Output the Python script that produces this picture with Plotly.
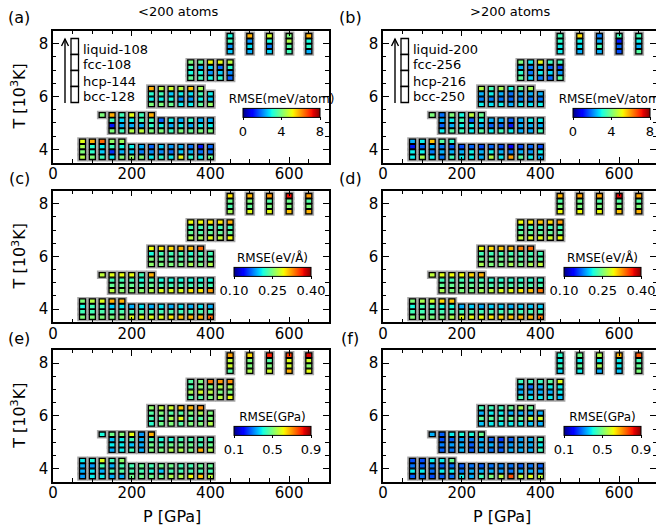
import numpy as np
import plotly.graph_objects as go

W, H = 656, 529
FONT = 'DejaVu Sans'

# ---------------- state points (P in GPa, T in 10^3 K) ----------------
T_ROWS = [4, 5, 6, 7, 8]
P_LIQ = [
    [75, 100, 125, 150, 175],
    [125, 150, 175, 200, 225, 250],
    [250, 275, 300, 325, 350, 375],
    [350, 375, 400, 425, 450],
    [450, 500, 550, 600, 650],
]
P_SOL = [
    [75, 100, 125, 150, 175, 200, 225, 250, 275, 300, 325, 350, 375, 400],
    [150, 175, 200, 225, 250, 275, 300, 325, 350, 375, 400],
    [250, 275, 300, 325, 350, 375, 400],
    [350, 375, 400, 425, 450],
    [450, 500, 550, 600, 650],
]

# ---------------- (a) energy RMSE, <200 atoms (meV/atom) ----------------
A_LIQ = [[5.0, 5.8, 6.4, 4.2, 4.3], [4.0, 5.8, 3.4, 5.0, 3.4, 5.8], [5.8, 4.6, 4.8, 4.6, 5.6, 4.4],
         [4.0, 3.8, 5.1, 5.0, 4.6], [3.0, 5.8, 4.8, 4.0, 5.8]]
A_FCC = [[4.4, 3.2, 2.9, 3.4, 3.0, 2.9, 2.4, 1.8, 2.6, 2.2, 2.4, 1.9, 1.2, 1.8],
         [3.4, 2.7, 2.9, 3.4, 3.4, 1.8, 2.9, 2.4, 3.2, 2.4, 2.4], [3.2, 3.4, 2.6, 2.9, 2.8, 3.4, 2.9],
         [3.4, 2.4, 2.7, 1.9, 3.2], [3.4, 2.2, 3.0, 4.5, 3.0]]
A_HCP = [[4.0, 3.2, 2.6, 1.4, 2.4, 2.6, 2.0, 2.1, 2.1, 1.9, 2.6, 2.4, 1.9, 1.9],
         [1.2, 2.4, 2.4, 2.4, 3.2, 2.9, 2.4, 2.9, 2.4, 2.9, 2.9], [2.9, 2.9, 3.0, 2.1, 2.2, 2.9, 2.6],
         [3.0, 3.0, 2.2, 2.6, 2.1], [2.2, 2.8, 2.0, 3.6, 3.2]]
A_BCC = [[4.5, 4.0, 3.4, 2.9, 4.0, 4.2, 4.0, 2.9, 3.2, 2.9, 5.0, 3.2, 2.9, 3.8],
         [4.0, 3.4, 4.5, 4.6, 4.0, 4.0, 3.4, 4.0, 3.8, 4.0, 4.0], [4.0, 4.0, 3.8, 2.9, 2.9, 3.7, 4.2],
         [3.7, 3.4, 3.0, 3.2, 1.8], [2.6, 2.4, 2.7, 3.4, 2.4]]

# ---------------- (b) energy RMSE, >200 atoms (meV/atom) ----------------
B_LIQ = [[2.4, 2.9, 5.6, 3.6, 3.2], [4.0, 1.9, 4.0, 3.0, 4.6, 3.8], [4.5, 3.4, 4.4, 3.0, 3.8, 4.4],
         [4.0, 2.9, 5.0, 3.4, 3.4], [3.4, 5.4, 2.0, 3.4, 3.4]]
B_FCC = [[1.2, 1.8, 2.4, 2.0, 1.8, 1.6, 1.8, 1.6, 1.8, 1.6, 1.0, 1.6, 1.8, 1.6],
         [2.4, 2.9, 3.4, 1.8, 2.9, 2.4, 2.4, 1.8, 2.4, 2.9, 2.9], [2.4, 2.9, 2.4, 1.9, 2.4, 2.4, 2.4],
         [2.4, 2.0, 2.4, 1.8, 1.6], [3.2, 2.9, 2.4, 1.2, 2.9]]
B_HCP = [[2.9, 2.9, 2.0, 2.4, 2.4, 2.4, 2.9, 2.4, 2.9, 2.4, 2.0, 2.4, 2.2, 2.9],
         [1.8, 2.4, 2.9, 2.9, 2.4, 1.8, 1.8, 1.2, 2.4, 2.4, 2.4], [2.0, 2.0, 1.9, 1.8, 2.0, 1.9, 1.9],
         [3.2, 2.0, 2.9, 2.7, 2.2], [2.9, 2.8, 3.4, 1.8, 2.4]]
B_BCC = [[2.9, 4.4, 2.9, 2.0, 3.4, 2.9, 2.9, 2.4, 4.5, 2.9, 5.9, 3.6, 2.9, 2.4],
         [2.9, 3.6, 3.4, 2.9, 3.6, 2.9, 3.4, 2.9, 2.4, 2.4, 3.4], [2.9, 2.8, 2.9, 2.4, 2.9, 2.8, 2.9],
         [3.7, 2.7, 2.0, 1.8, 3.6], [2.9, 2.4, 2.4, 1.6, 3.6]]

# ---------------- (c) force RMSE, <200 atoms (eV/Å) ----------------
C_LIQ = [[0.250, 0.271, 0.286, 0.316, 0.316], [0.274, 0.286, 0.289, 0.289, 0.229, 0.316],
         [0.292, 0.298, 0.304, 0.316, 0.316, 0.340], [0.292, 0.292, 0.298, 0.298, 0.316],
         [0.301, 0.316, 0.325, 0.370, 0.325]]
C_FCC = [[0.214, 0.229, 0.229, 0.199, 0.208, 0.190, 0.205, 0.190, 0.205, 0.190, 0.205, 0.190, 0.205, 0.190],
         [0.229, 0.229, 0.229, 0.214, 0.229, 0.214, 0.214, 0.214, 0.214, 0.214, 0.214],
         [0.214, 0.229, 0.229, 0.229, 0.220, 0.229, 0.229], [0.229, 0.229, 0.229, 0.229, 0.229],
         [0.244, 0.250, 0.235, 0.244, 0.235]]
C_HCP = [[0.229, 0.229, 0.232, 0.229, 0.232, 0.229, 0.232, 0.229, 0.229, 0.232, 0.229, 0.229, 0.232, 0.229],
         [0.241, 0.241, 0.241, 0.229, 0.241, 0.229, 0.229, 0.229, 0.229, 0.229, 0.229],
         [0.250, 0.244, 0.235, 0.235, 0.235, 0.235, 0.235], [0.241, 0.235, 0.241, 0.241, 0.241],
         [0.232, 0.241, 0.250, 0.250, 0.250]]
C_BCC = [[0.250, 0.250, 0.250, 0.250, 0.256, 0.286, 0.286, 0.286, 0.286, 0.298, 0.310, 0.316, 0.316, 0.340],
         [0.271, 0.256, 0.256, 0.256, 0.271, 0.286, 0.286, 0.286, 0.298, 0.298, 0.322],
         [0.256, 0.250, 0.250, 0.250, 0.265, 0.250, 0.268], [0.271, 0.265, 0.286, 0.274, 0.292],
         [0.265, 0.286, 0.289, 0.310, 0.316]]

# ---------------- (d) force RMSE, >200 atoms (eV/Å) ----------------
D_LIQ = [[0.250, 0.265, 0.280, 0.304, 0.310], [0.274, 0.286, 0.292, 0.292, 0.304, 0.316],
         [0.292, 0.304, 0.310, 0.316, 0.334, 0.340], [0.292, 0.298, 0.310, 0.304, 0.322],
         [0.316, 0.322, 0.322, 0.376, 0.322]]
D_FCC = [[0.214, 0.229, 0.229, 0.214, 0.214, 0.190, 0.199, 0.190, 0.199, 0.199, 0.190, 0.199, 0.196, 0.199],
         [0.229, 0.229, 0.229, 0.226, 0.229, 0.220, 0.220, 0.220, 0.220, 0.220, 0.220],
         [0.229, 0.229, 0.229, 0.229, 0.229, 0.229, 0.229], [0.229, 0.229, 0.229, 0.229, 0.229],
         [0.235, 0.244, 0.235, 0.235, 0.235]]
D_HCP = [[0.229, 0.229, 0.229, 0.229, 0.229, 0.229, 0.232, 0.229, 0.229, 0.229, 0.232, 0.229, 0.229, 0.229],
         [0.241, 0.241, 0.241, 0.241, 0.241, 0.232, 0.232, 0.232, 0.232, 0.232, 0.232],
         [0.244, 0.244, 0.244, 0.244, 0.235, 0.235, 0.235], [0.241, 0.241, 0.241, 0.241, 0.241],
         [0.250, 0.250, 0.250, 0.250, 0.250]]
D_BCC = [[0.250, 0.250, 0.250, 0.250, 0.268, 0.286, 0.289, 0.292, 0.298, 0.304, 0.310, 0.316, 0.316, 0.334],
         [0.265, 0.250, 0.250, 0.250, 0.265, 0.274, 0.286, 0.289, 0.298, 0.310, 0.334],
         [0.265, 0.250, 0.250, 0.265, 0.250, 0.265, 0.274], [0.274, 0.286, 0.286, 0.280, 0.292],
         [0.292, 0.292, 0.292, 0.310, 0.316]]

# ---------------- (e) stress RMSE, <200 atoms (GPa) ----------------
E_LIQ = [[0.388, 0.404, 0.596, 0.436, 0.516], [0.404, 0.484, 0.500, 0.604, 0.324, 0.676],
         [0.516, 0.564, 0.580, 0.660, 0.676, 0.708], [0.460, 0.500, 0.724, 0.700, 0.708],
         [0.692, 0.644, 0.804, 0.780, 0.836]]
E_FCC = [[0.340, 0.324, 0.444, 0.340, 0.444, 0.444, 0.476, 0.444, 0.484, 0.484, 0.444, 0.444, 0.476, 0.476],
         [0.356, 0.388, 0.436, 0.340, 0.444, 0.404, 0.404, 0.444, 0.444, 0.444, 0.444],
         [0.460, 0.500, 0.460, 0.460, 0.500, 0.540, 0.500], [0.452, 0.500, 0.500, 0.540, 0.540],
         [0.564, 0.500, 0.460, 0.596, 0.580]]
E_HCP = [[0.340, 0.380, 0.340, 0.444, 0.460, 0.444, 0.444, 0.404, 0.356, 0.444, 0.444, 0.444, 0.444, 0.444],
         [0.388, 0.388, 0.356, 0.340, 0.484, 0.444, 0.484, 0.484, 0.484, 0.444, 0.484],
         [0.444, 0.460, 0.540, 0.596, 0.460, 0.460, 0.500], [0.540, 0.580, 0.556, 0.500, 0.500],
         [0.580, 0.500, 0.500, 0.580, 0.516]]
E_BCC = [[0.324, 0.388, 0.388, 0.340, 0.340, 0.484, 0.484, 0.484, 0.484, 0.548, 0.548, 0.612, 0.660, 0.564],
         [0.340, 0.388, 0.436, 0.340, 0.500, 0.500, 0.548, 0.548, 0.500, 0.676, 0.548],
         [0.420, 0.484, 0.500, 0.460, 0.500, 0.500, 0.548], [0.460, 0.460, 0.500, 0.556, 0.604],
         [0.460, 0.548, 0.580, 0.676, 0.604]]

# ---------------- (f) stress RMSE, >200 atoms (GPa) ----------------
F_LIQ = [[0.260, 0.260, 0.388, 0.388, 0.476], [0.340, 0.276, 0.388, 0.404, 0.404, 0.476],
         [0.436, 0.436, 0.436, 0.476, 0.540, 0.476], [0.436, 0.436, 0.436, 0.468, 0.596],
         [0.420, 0.484, 0.548, 0.676, 0.756]]
F_FCC = [[0.292, 0.276, 0.292, 0.276, 0.292, 0.276, 0.292, 0.276, 0.292, 0.300, 0.292, 0.276, 0.292, 0.276],
         [0.260, 0.276, 0.324, 0.300, 0.340, 0.276, 0.244, 0.276, 0.324, 0.340, 0.436],
         [0.340, 0.388, 0.388, 0.340, 0.340, 0.340, 0.340], [0.340, 0.292, 0.340, 0.388, 0.388],
         [0.388, 0.388, 0.388, 0.388, 0.444]]
F_HCP = [[0.388, 0.388, 0.292, 0.388, 0.388, 0.300, 0.340, 0.340, 0.340, 0.324, 0.300, 0.340, 0.340, 0.324],
         [0.300, 0.324, 0.340, 0.276, 0.340, 0.340, 0.292, 0.324, 0.340, 0.340, 0.388],
         [0.468, 0.468, 0.444, 0.484, 0.476, 0.564, 0.580], [0.340, 0.340, 0.340, 0.340, 0.388],
         [0.436, 0.468, 0.540, 0.388, 0.476]]
F_BCC = [[0.276, 0.292, 0.260, 0.276, 0.292, 0.388, 0.340, 0.436, 0.500, 0.556, 0.756, 0.564, 0.596, 0.564],
         [0.276, 0.292, 0.340, 0.276, 0.324, 0.292, 0.276, 0.340, 0.340, 0.340, 0.436],
         [0.356, 0.388, 0.388, 0.388, 0.388, 0.356, 0.340], [0.436, 0.388, 0.388, 0.388, 0.356],
         [0.372, 0.388, 0.340, 0.356, 0.500]]

LEGEND_A = ['liquid-108', 'fcc-108', 'hcp-144', 'bcc-128']
LEGEND_B = ['liquid-200', 'fcc-256', 'hcp-216', 'bcc-250']

# ---------------- jet colour scale (matplotlib definition) ----------------
_JET = {'r': [(0, 0), (0.35, 0), (0.66, 1), (0.89, 1), (1, 0.5)],
        'g': [(0, 0), (0.125, 0), (0.375, 1), (0.64, 1), (0.91, 0), (1, 0)],
        'b': [(0, 0.5), (0.11, 1), (0.34, 1), (0.65, 0), (1, 0)]}
_stops = sorted({s for seg in _JET.values() for s, _ in seg})
JET = []
for s in _stops:
    rgb = [np.interp(s, [p[0] for p in _JET[c]], [p[1] for p in _JET[c]]) for c in 'rgb']
    JET.append([s, 'rgb(%d,%d,%d)' % tuple(int(round(255 * v)) for v in rgb)])

OFF = {'bcc': -0.3, 'hcp': -0.1, 'fcc': 0.1, 'liquid': 0.3}


def cells(liq, fcc, hcp, bcc):
    xs, ts, vs = [], [], []
    for phase, data, plist in [('bcc', bcc, P_SOL), ('hcp', hcp, P_SOL),
                               ('fcc', fcc, P_SOL), ('liquid', liq, P_LIQ)]:
        for T, ps, row in zip(T_ROWS, plist, data):
            for p, v in zip(ps, row):
                xs.append(p)
                ts.append(T + OFF[phase])
                vs.append(v)
    return xs, ts, vs


def px(x):
    return x / W


def py(y):
    return 1 - y / H


COL_X = [(53, 328.5), (383, 656)]
ROW_Y = [(30.5, 162.5), (190.5, 322.3), (350, 481.7)]
PX_PER_GPA = (328.5 - 53) / 700.0
PX_PER_T = (162.5 - 30.5) / 5.0

CELL_W = 6.0 / PX_PER_GPA
CELL_H = 4.6 / PX_PER_T
HALO_W = 10.6 / PX_PER_GPA
HALO_H = 0.2 + 2 * 1.6 / PX_PER_T

panels = [
    ('a', 0, 0, (A_LIQ, A_FCC, A_HCP, A_BCC), 0, 8, [0, 4, 8], ['0', '4', '8'], 'RMSE(meV/atom)', (243, 107)),
    ('b', 1, 0, (B_LIQ, B_FCC, B_HCP, B_BCC), 0, 8, [0, 4, 8], ['0', '4', '8'], 'RMSE(meV/atom)', (573, 107)),
    ('c', 0, 1, (C_LIQ, C_FCC, C_HCP, C_BCC), 0.1, 0.4, [0.1, 0.25, 0.4], ['0.10', '0.25', '0.40'], 'RMSE(eV/Å)', (234, 266)),
    ('d', 1, 1, (D_LIQ, D_FCC, D_HCP, D_BCC), 0.1, 0.4, [0.1, 0.25, 0.4], ['0.10', '0.25', '0.40'], 'RMSE(eV/Å)', (564, 266)),
    ('e', 0, 2, (E_LIQ, E_FCC, E_HCP, E_BCC), 0.1, 0.9, [0.1, 0.5, 0.9], ['0.1', '0.5', '0.9'], 'RMSE(GPa)', (234, 425)),
    ('f', 1, 2, (F_LIQ, F_FCC, F_HCP, F_BCC), 0.1, 0.9, [0.1, 0.5, 0.9], ['0.1', '0.5', '0.9'], 'RMSE(GPa)', (564, 425)),
]

fig = go.Figure()
layout = dict(width=W, height=H, margin=dict(l=0, r=0, t=0, b=0, autoexpand=False),
              paper_bgcolor='white', plot_bgcolor='white', barmode='overlay', showlegend=False,
              font=dict(family=FONT, color='black'))
annotations = []
shapes = []


def note(text, x, y, size, xanchor='center', **kw):
    annotations.append(dict(text=text, x=px(x), y=py(y), xref='paper', yref='paper', showarrow=False,
                            xanchor=xanchor, yanchor='middle', font=dict(size=size, family=FONT,
                                                                         color='black'), **kw))


AX = dict(showline=True, linecolor='black', linewidth=1.5, mirror='ticks', ticks='inside',
          ticklen=6, tickwidth=1.2, tickcolor='black', showgrid=False, zeroline=False,
          tickfont=dict(family=FONT, size=15, color='black'))

for k, (lab, ci, ri, data, cmin, cmax, tv, tt, cbt, (cbx, cby)) in enumerate(panels):
    n = k + 1
    xa = 'x' if n == 1 else 'x%d' % n
    ya = 'y' if n == 1 else 'y%d' % n
    x0, x1 = COL_X[ci]
    y0, y1 = ROW_Y[ri]
    xmax = (x1 - x0) / PX_PER_GPA
    layout['xaxis' if n == 1 else 'xaxis%d' % n] = dict(
        AX, domain=[px(x0), px(x1)], range=[0, xmax], anchor=ya, tick0=0, dtick=200,
        ticklabelstandoff=-3,
        minor=dict(ticks='inside', ticklen=3.5, tickwidth=1, tickcolor='black', dtick=50, tick0=0))
    layout['yaxis' if n == 1 else 'yaxis%d' % n] = dict(
        AX, domain=[py(y1), py(y0)], range=[3.5, 8.5], anchor=xa, tick0=0, dtick=2,
        minor=dict(ticks='inside', ticklen=3.5, tickwidth=1, tickcolor='black', dtick=0.5, tick0=0))

    xs, ts, vs = cells(*data)
    fig.add_trace(go.Bar(x=xs, y=[HALO_H] * len(xs), base=[t - HALO_H / 2 for t in ts], width=HALO_W,
                         marker=dict(color='rgb(168,168,168)', line=dict(width=0)),
                         xaxis=xa, yaxis=ya, hoverinfo='skip'))
    fig.add_trace(go.Bar(
        x=xs, y=[CELL_H] * len(xs), base=[t - CELL_H / 2 for t in ts], width=CELL_W,
        marker=dict(color=vs, colorscale=JET, cmin=cmin, cmax=cmax,
                    line=dict(color='black', width=1.3), showscale=True,
                    colorbar=dict(orientation='h', x=px(cbx), xanchor='left', y=py(cby + 9 + 24),
                                  yanchor='bottom', len=77, lenmode='pixels', thickness=9,
                                  thicknessmode='pixels', outlinewidth=1, outlinecolor='black',
                                  tickvals=tv, ticktext=tt, ticks='outside', ticklen=3,
                                  tickcolor='black', tickfont=dict(family=FONT, size=13),
                                  title=dict(text=cbt, side='top', font=dict(family=FONT, size=12)),
                                  xpad=0, ypad=0, bgcolor='rgba(0,0,0,0)')),
        xaxis=xa, yaxis=ya, hovertemplate='P=%{x}<br>RMSE=%{marker.color}<extra></extra>'))

    note('(%s)' % lab, 19 + 331 * ci, 18 + 160 * ri, 16)
    if ci == 0:
        note('T [10<sup>3</sup>K]', 19, (y0 + y1) / 2, 16, textangle=-90)

note('<200 atoms', 178, 12, 13)
note('>200 atoms', 510, 12, 13)
note('P [GPa]', 172, 516, 16)
note('P [GPa]', 502, 516, 16)

# phase-order legend in (a) and (b)
for ci, labels in enumerate([LEGEND_A, LEGEND_B]):
    dx = 330 * ci
    ax_x = 65 + dx
    shapes.append(dict(type='line', xref='paper', yref='paper', x0=px(ax_x), x1=px(ax_x),
                       y0=py(103), y1=py(39), line=dict(color='black', width=1.4)))
    shapes.append(dict(type='path', xref='paper', yref='paper',
                       path='M %f,%f L %f,%f L %f,%f' % (px(ax_x - 3.5), py(46), px(ax_x), py(39),
                                                        px(ax_x + 3.5), py(46)),
                       line=dict(color='black', width=1.4)))
    for i, txt in enumerate(labels):
        top = 38.5 + 16 * i
        shapes.append(dict(type='rect', xref='paper', yref='paper', x0=px(71 + dx), x1=px(78.5 + dx),
                           y0=py(top + 16), y1=py(top), line=dict(color='black', width=1.3),
                           fillcolor='white'))
        note(txt, 81 + dx, top + 10.5, 13, xanchor='left')

layout['annotations'] = annotations
layout['shapes'] = shapes
fig.update_layout(**layout)
fig.write_html('out.html', config={'displayModeBar': False},
               post_script="document.body.style.margin='0px';document.body.style.padding='0px';")
